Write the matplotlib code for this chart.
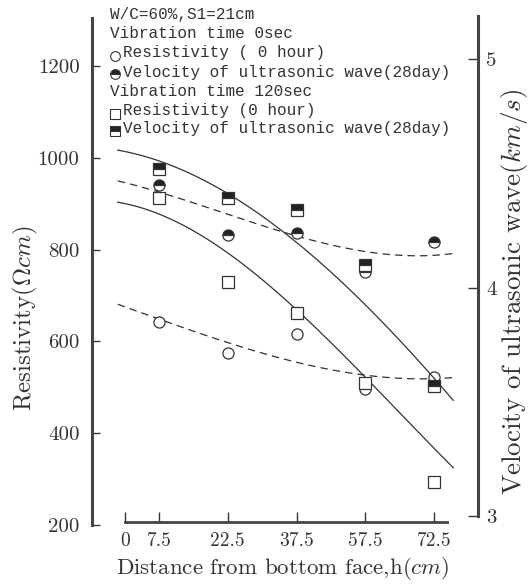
import numpy as np
import matplotlib.pyplot as plt
from matplotlib.lines import Line2D

plt.rcParams['font.family'] = ['cmr10', 'DejaVu Serif']
plt.rcParams['mathtext.fontset'] = 'cm'
plt.rcParams['axes.unicode_minus'] = False

# measuring points (distance from bottom face, cm)
depth = [7.5, 22.5, 37.5, 57.5, 72.5]
depth_ticks = ['0', '7.5', '22.5', '37.5', '57.5', '72.5']

# resistivity at 0 hour (ohm cm)
res_0sec = [642, 575, 616, 496, 522]
res_120sec = [912, 729, 662, 509, 294]

# ultrasonic velocity at 28 days (km/s)
vel_0sec = [4.45, 4.23, 4.24, 4.07, 4.20]
vel_120sec = [4.52, 4.39, 4.34, 4.10, 3.57]

# trend curves, sampled along the axis (unit = one measuring point)
fit_pos = [-0.6, 0, 1, 2, 3, 4, 4.28]
fit_res_0sec = [680, 650, 598, 552, 528, 520, 520]
fit_res_120sec = [905, 872, 800, 663, 524, 368, 324]
fit_vel_0sec = [4.47, 4.41, 4.33, 4.22, 4.16, 4.14, 4.15]
fit_vel_120sec = [4.60, 4.56, 4.40, 4.21, 3.92, 3.60, 3.51]

ink = '#333333'
W, H = 532, 584


def fx(px):
    return px / W


def fy(py):
    return 1 - py / H


def smooth(pos, vals, deg=3):
    # least-squares trend through the curve samples
    coef = np.polyfit(pos, vals, deg)
    xs = np.linspace(min(pos), max(pos), 120)
    return xs, np.polyval(coef, xs)


fig = plt.figure(figsize=(W / 100, H / 100), dpi=100)
ax = fig.add_axes([fx(92), fy(525), fx(478) - fx(92), fy(15) - fy(525)])
ax2 = ax.twinx()

slot = np.arange(len(depth))
ax.set_xlim(-0.975, 4.64)
ax.set_ylim(200, 1311)
ax2.set_ylim(2.961, 5.193)

dash = (0, (6, 4))

# resistivity on the left scale
ax.plot(*smooth(fit_pos, fit_res_0sec), color=ink, lw=0.9, ls=dash)
ax.plot(*smooth(fit_pos, fit_res_120sec), color=ink, lw=0.9)
ax.plot(slot, res_0sec, 'o', ms=8, mfc='white', mec=ink, mew=0.9, zorder=3)
ax.plot(slot, res_120sec, 's', ms=8, mfc='white', mec=ink, mew=0.9, zorder=3)

# velocity on the right scale
ax2.plot(*smooth(fit_pos, fit_vel_0sec), color=ink, lw=0.9, ls=dash)
ax2.plot(*smooth(fit_pos, fit_vel_120sec), color=ink, lw=0.9)
ax2.plot(slot, vel_0sec, 'o', ms=8, fillstyle='top', mfc='#222222',
         markerfacecoloralt='white', mec=ink, mew=0.9, zorder=3)
ax2.plot(slot, vel_120sec, 's', ms=8, fillstyle='top', mfc='#222222',
         markerfacecoloralt='white', mec=ink, mew=0.9, zorder=3)

# axes frame: separate bottom scale, thick side bars
for s in ['top', 'right']:
    ax.spines[s].set_visible(False)
for s in ['top', 'left', 'bottom']:
    ax2.spines[s].set_visible(False)
ax.spines['left'].set_bounds(200, 1305)
ax.spines['left'].set_linewidth(2.2)
ax.spines['left'].set_color('#444444')
ax.spines['bottom'].set_position(('data', 206.5))
ax.spines['bottom'].set_bounds(-0.5, 4.19)
ax.spines['bottom'].set_linewidth(2.0)
ax.spines['bottom'].set_color('#444444')
ax2.spines['right'].set_bounds(3, 5.19)
ax2.spines['right'].set_linewidth(2.2)
ax2.spines['right'].set_color('#444444')

ax.set_xticks(np.concatenate([[-0.5], slot]))
ax.set_xticklabels(depth_ticks)
ax.set_yticks([200, 400, 600, 800, 1000, 1200])
ax.set_yticklabels(['200', '400', '600', '800', '1000', '1200'])
ax2.set_yticks([3, 4, 5])
ax2.set_yticklabels(['3', '4', '5'])

ax.tick_params(axis='x', direction='in', length=7, width=1.0, color=ink,
               pad=7, labelsize=14, labelcolor=ink)
ax.tick_params(axis='y', direction='in', length=6, width=1.0, color=ink,
               pad=9, labelsize=15, labelcolor=ink)
ax2.tick_params(axis='y', direction='in', length=7, width=1.0, color=ink,
                pad=6, labelsize=15, labelcolor=ink)

fig.text(fx(283), fy(568), r'Distance from bottom face,h$(cm)$',
         ha='center', va='center', fontsize=16.5, color=ink)
fig.text(fx(25), fy(318), r'Resistivity$(\Omega cm)$', rotation=90,
         ha='center', va='center', fontsize=18, color=ink)
fig.text(fx(514), fy(292), r'Velocity of ultrasonic wave$(km/s)$',
         rotation=90, ha='center', va='center', fontsize=19.5, color=ink)

# legend block
mono = dict(family='Liberation Mono', fontsize=11.5, color=ink,
            va='center', ha='left')
fig.text(fx(110), fy(15), 'W/C=60%,S1=21cm', **mono)
fig.text(fx(110), fy(33), 'Vibration time 0sec', **mono)
fig.text(fx(123), fy(53), 'Resistivity ( 0 hour)', **mono)
fig.text(fx(123), fy(72), 'Velocity of ultrasonic wave(28day)', **mono)
fig.text(fx(110), fy(92), 'Vibration time 120sec', **mono)
fig.text(fx(123), fy(111), 'Resistivity (0 hour)', **mono)
fig.text(fx(123), fy(129), 'Velocity of ultrasonic wave(28day)', **mono)

keys = [(56, 'o', 'none'), (74, 'o', 'top'), (114, 's', 'none'), (131, 's', 'top')]
for py, mk, fill in keys:
    if fill == 'none':
        kw = dict(mfc='white')
    else:
        kw = dict(fillstyle='top', mfc='#222222', markerfacecoloralt='white')
    fig.add_artist(Line2D([fx(115)], [fy(py)], transform=fig.transFigure,
                          marker=mk, ms=7, mec=ink, mew=0.8, ls='none', **kw))

fig.savefig('out.png', dpi=100)
